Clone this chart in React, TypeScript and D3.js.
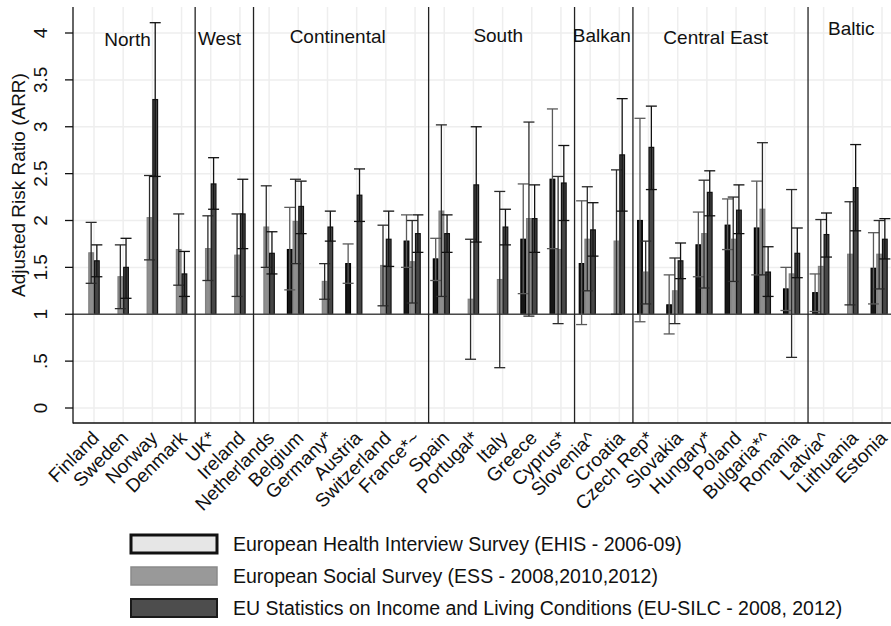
import React from 'react'
import { scaleLinear, scalePoint } from 'd3'

const countries = [
  'Finland', 'Sweden', 'Norway', 'Denmark', 'UK*', 'Ireland', 'Netherlands', 'Belgium',
  'Germany*', 'Austria', 'Switzerland', 'France*~', 'Spain', 'Portugal*', 'Italy', 'Greece',
  'Cyprus*', 'Slovenia^', 'Croatia', 'Czech Rep*', 'Slovakia', 'Hungary*', 'Poland',
  'Bulgaria*^', 'Romania', 'Latvia^', 'Lithuania', 'Estonia',
]

// [estimate, lower, upper]; null = not surveyed
const ehis = [
  null, null, null, null, null, null, null, [1.69, 1.26, 2.14],
  null, [1.54, 1.33, 1.75], null, [1.78, 1.5, 2.06], [1.59, 1.36, 1.81], null, null, [1.8, 1.22, 2.39],
  [2.44, 1.7, 3.19], [1.54, 0.89, 2.21], null, [2.0, 0.92, 3.09], [1.1, 0.79, 1.42], [1.74, 1.4, 2.09], [1.95, 1.69, 2.23],
  [1.92, 1.42, 2.42], [1.27, 1.04, 1.5], [1.23, 1.03, 1.43], null, [1.49, 1.11, 1.87],
]
const ess = [
  [1.655, 1.33, 1.98], [1.4, 1.06, 1.74], [2.03, 1.58, 2.48], [1.69, 1.31, 2.07], [1.7, 1.36, 2.05], [1.63, 1.19, 2.07], [1.93, 1.5, 2.37], [1.99, 1.54, 2.44],
  [1.35, 1.16, 1.54], null, [1.52, 1.09, 1.95], [1.56, 1.12, 2.0], [2.1, 1.19, 3.02], [1.16, 0.52, 1.8], [1.37, 0.43, 2.31], [2.02, 0.98, 3.05],
  [1.69, 0.9, 2.47], [1.8, 1.25, 2.36], [1.78, 1.0, 2.54], [1.45, 1.11, 1.78], [1.25, 0.9, 1.6], [1.86, 1.28, 2.43], [1.8, 1.35, 2.25],
  [2.12, 1.42, 2.83], [1.43, 0.54, 2.33], [1.51, 1.0, 2.01], [1.64, 1.1, 2.2], [1.64, 1.27, 2.0],
]
const silc = [
  [1.57, 1.4, 1.74], [1.5, 1.17, 1.81], [3.29, 2.47, 4.11], [1.43, 1.19, 1.67], [2.39, 2.12, 2.67], [2.07, 1.7, 2.44], [1.65, 1.43, 1.88], [2.15, 1.86, 2.42],
  [1.93, 1.78, 2.1], [2.27, 1.99, 2.55], [1.8, 1.51, 2.1], [1.86, 1.66, 2.06], [1.86, 1.66, 2.06], [2.38, 1.77, 3.0], [1.93, 1.74, 2.12], [2.02, 1.66, 2.38],
  [2.4, 2.0, 2.8], [1.9, 1.62, 2.19], [2.7, 2.1, 3.3], [2.78, 2.33, 3.22], [1.57, 1.38, 1.76], [2.3, 2.05, 2.53], [2.11, 1.86, 2.38],
  [1.45, 1.19, 1.72], [1.65, 1.39, 1.92], [1.85, 1.61, 2.08], [2.35, 1.89, 2.81], [1.8, 1.59, 2.02],
]

// region name, first and last country index
const regions = [
  ['North', 0, 3], ['West', 4, 5], ['Continental', 6, 11], ['South', 12, 16],
  ['Balkan', 17, 18], ['Central East', 19, 24], ['Baltic', 25, 27],
]
// label placement: category index, y value
const regionLabelAt = [[1.15, 3.86], [4.3, 3.87], [8.35, 3.89], [13.85, 3.9], [17.4, 3.9], [21.3, 3.88], [25.95, 3.98]]

const yTicks = [0, 0.5, 1, 1.5, 2, 2.5, 3, 3.5, 4]
const yTickLabels = ['0', '.5', '1', '1.5', '2', '2.5', '3', '3.5', '4']

const legendLabels = [
  'European Health Interview Survey (EHIS - 2006-09)',
  'European Social Survey (ESS - 2008,2010,2012)',
  'EU Statistics on Income and Living Conditions (EU-SILC - 2008, 2012)',
]

const W = 891
const H = 626
const plot = { left: 73, right: W, top: 7, bottom: 423 }
const font = '"Liberation Sans", Arial, sans-serif'

const series = [
  { data: ehis, fill: '#161616', stroke: '#000', err: '#5a5a5a', offset: -2 },
  { data: ess, fill: '#8e8e8e', stroke: '#808080', err: '#2a2a2a', offset: -1 },
  { data: silc, fill: '#464646', stroke: '#111', err: '#111', offset: 0 },
]
const legendStyle = [
  { fill: '#e6e6e6', stroke: '#111', sw: 3 },
  { fill: '#999', stroke: '#8a8a8a', sw: 1.5 },
  { fill: '#4d4d4d', stroke: '#1a1a1a', sw: 2 },
]

export default function App() {
  const x = scalePoint().domain(countries).range([94, 882])
  const y = scaleLinear().domain([0, 4]).range([408, 33])
  const step = x.step()
  const bw = step * 0.195
  const cap = 5.5

  const sepX = regions.slice(1).map((r) => {
    const a = x(countries[r[1] - 1])
    const b = x(countries[r[1]])
    return (a + b) / 2 - 1
  })

  return (
    <svg width={W} height={H} style={{ position: 'absolute', left: 0, top: 0, background: '#fff' }} fontFamily={font}>
      <rect x={0} y={0} width={W} height={H} fill="#fff" />
      {/* grid */}
      <g stroke="#eeeeee" strokeWidth={1.5}>
        {yTicks.map((t) => (
          <line key={'h' + t} x1={plot.left} x2={plot.right} y1={y(t)} y2={y(t)} />
        ))}
        {countries.map((c) => (
          <line key={'v' + c} x1={x(c)} x2={x(c)} y1={plot.top} y2={plot.bottom} />
        ))}
      </g>

      {/* bars */}
      {series.map((s, si) => (
        <g key={'bars' + si}>
          {s.data.map((d, i) => {
            if (!d) return null
            const x0 = x(countries[i]) + s.offset * bw
            return (
              <rect key={i} x={x0 + 0.5} width={bw - 1} y={y(d[0])} height={y(1) - y(d[0])}
                fill={s.fill} stroke={s.stroke} strokeWidth={1.2} />
            )
          })}
        </g>
      ))}

      {/* baseline at 1 */}
      <line x1={plot.left} x2={plot.right} y1={y(1)} y2={y(1)} stroke="#4a4a4a" strokeWidth={1.5} />

      {/* error bars */}
      {series.map((s, si) => (
        <g key={'err' + si} stroke={s.err} strokeWidth={1.3} fill="none">
          {s.data.map((d, i) => {
            if (!d) return null
            const cx = x(countries[i]) + s.offset * bw + bw / 2
            return (
              <g key={i}>
                <line x1={cx} x2={cx} y1={y(d[1])} y2={y(d[2])} />
                <line x1={cx - cap} x2={cx + cap} y1={y(d[1])} y2={y(d[1])} />
                <line x1={cx - cap} x2={cx + cap} y1={y(d[2])} y2={y(d[2])} />
              </g>
            )
          })}
        </g>
      ))}

      {/* region separators */}
      {sepX.map((sx, i) => (
        <line key={'sep' + i} x1={sx} x2={sx} y1={plot.top} y2={plot.bottom} stroke="#222" strokeWidth={1.3} />
      ))}

      {/* region labels */}
      {regions.map((r, i) => {
        const [ix, vy] = regionLabelAt[i]
        const lx = x.range()[0] + ix * step
        return (
          <text key={'rl' + r[0]} x={lx} y={y(vy)} textAnchor="middle" fontSize={19} fill="#111">
            {r[0]}
          </text>
        )
      })}

      {/* axes */}
      <line x1={plot.left} x2={plot.left} y1={plot.top} y2={plot.bottom + 0.5} stroke="#111" strokeWidth={1.3} />
      <line x1={plot.left} x2={plot.right} y1={plot.bottom} y2={plot.bottom} stroke="#111" strokeWidth={1.3} />
      {yTicks.map((t, i) => (
        <g key={'yt' + t}>
          <line x1={plot.left - 8} x2={plot.left} y1={y(t)} y2={y(t)} stroke="#111" strokeWidth={1.3} />
          <text transform={`translate(47,${y(t)}) rotate(-90)`} textAnchor="middle" fontSize={19} fill="#111">
            {yTickLabels[i]}
          </text>
        </g>
      ))}
      <text transform={`translate(25,${185}) rotate(-90)`} textAnchor="middle" fontSize={19} fill="#111">
        Adjusted Risk Ratio (ARR)
      </text>

      {countries.map((c) => (
        <text key={'xl' + c} transform={`translate(${x(c) - 2},${plot.bottom + 8}) rotate(-45)`}
          textAnchor="end" dy="0.62em" fontSize={19} fill="#111">
          {c}
        </text>
      ))}

      {/* legend */}
      {legendLabels.map((l, i) => (
        <g key={'lg' + i} transform={`translate(0,${i * 32})`}>
          <rect x={131} y={535} width={86} height={18} fill={legendStyle[i].fill}
            stroke={legendStyle[i].stroke} strokeWidth={legendStyle[i].sw} />
          <text x={233} y={551} fontSize={19.5} fill="#111">{l}</text>
        </g>
      ))}
    </svg>
  )
}
